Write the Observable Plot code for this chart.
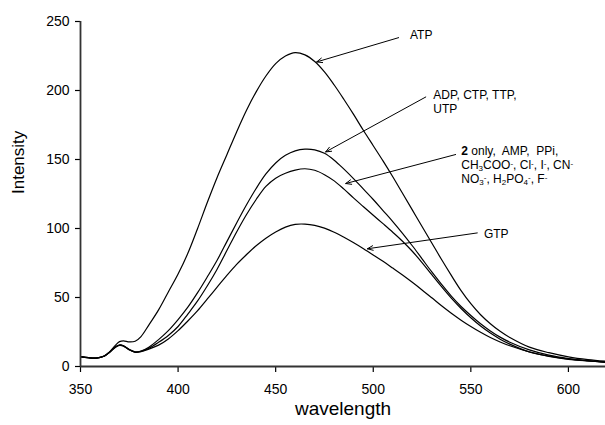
<!DOCTYPE html>
<html>
<head>
<meta charset="utf-8">
<script src="https://cdn.jsdelivr.net/npm/d3@7"></script>
<script src="https://cdn.jsdelivr.net/npm/@observablehq/plot@0.6"></script>
<style>
  body { margin: 0; background: #fff; }
  svg { display: block; }
</style>
</head>
<body>
<div id="chart"></div>
<script>
// ---- data ----
const wavelength = [350,354,358,362,365,368,370,372,375,378,381,385,390,395,400,405,410,415,420,425,430,435,440,445,450,455,460,465,470,475,480,485,490,495,500,505,510,515,520,525,530,535,540,545,550,555,560,565,570,580,590,600,610,619];

const atp = [7.2,6.4,6.1,7.6,10.8,15.5,18,18.6,17.8,18.3,21.7,30,41,54,67,82,100,119,137,153.5,170,185.5,199,210.5,219.5,225,227.5,225.8,221,213.5,204,193.5,182.5,171,160,149,137.5,125.5,113.5,101.5,89.5,77.5,66,55,45.5,37.5,31,25.5,21,14,10,7,5,3.8];

const adp = [7.2,6.4,6.1,7.4,10.5,14.3,15.6,15,12.3,10.6,11.2,14,19.5,26,34,43,53.5,65,77,90.5,104,117,129,139.5,147.5,153,156.3,157.5,157,154.5,149.5,143,136,128.5,121,113,105,96.5,87.5,78,68.5,59.5,51,43.5,37,31,25.8,21.3,17.6,12,8.2,5.8,4.3,3.4];

const only2 = [7.2,6.4,6.1,7.4,10.5,14.3,15.6,15,12.3,10.5,11,13.2,17.5,22.5,29,38,47.5,58.5,70.5,84,97.5,110,121,130.5,136.5,140,142.3,143.3,142.2,139,134.5,128.5,122,115.8,109.6,103.5,97.3,90.8,83.5,75.3,66.5,57.8,49.5,42,35.3,29.3,24.2,19.8,16.2,10.5,7.3,5.2,4,3.2];

const gtp = [7.2,6.4,6.1,7.4,10.3,14,15.3,14.8,12,10.3,10.7,12.6,15.5,20,26,33,40.5,49,57.5,66,74,81,87.5,93,97.5,101,103,103.2,102.3,100.3,97.3,93.6,89.6,85.3,80.8,76.2,71.3,66.3,61,55.5,49.8,44,38.6,33.6,29,24.8,21,17.8,15,10.6,7.5,5.5,4,3];

const seriesNames = ["ATP", "ADP", "2 only", "GTP"];
const seriesValues = [atp, adp, only2, gtp];

const xTicks = [350, 400, 450, 500, 550, 600];
const yTicks = [0, 50, 100, 150, 200, 250];
const xLabel = "wavelength";
const yLabel = "Intensity";

// annotation arrows (data coordinates: wavelength, intensity)
const arrowTailWl = [513.0, 526.9, 542.2, 553.3];
const arrowTailI  = [238.3, 195.3, 153.6, 96.8];
const arrowTipWl  = [471.0, 475.6, 485.9, 497.0];
const arrowTipI   = [220.7, 155.5, 132.6, 85.3];

// annotation text lines
const labelLines = [
  "ATP",
  "ADP, CTP, TTP,",
  "UTP",
  "<b>2</b> only,  AMP,  PPi,",
  "CH<sub>3</sub>COO<sup>-</sup>, Cl<sup>-</sup>, I<sup>-</sup>, CN<sup>-</sup>",
  "NO<sub>3</sub><sup>-</sup>, H<sub>2</sub>PO<sub>4</sub><sup>-</sup>, F<sup>-</sup>",
  "GTP"
];
const labelWl = [518.8, 530.8, 530.8, 545.1, 545.1, 545.1, 556.7];
const labelI  = [240.4, 196.4, 186.7, 156.2, 145.8, 135.4, 96.2];

// ---- build table ----
const rows = [];
seriesNames.forEach((name, s) => {
  wavelength.forEach((w, i) => rows.push({series: name, wl: w, v: seriesValues[s][i]}));
});

const chart = Plot.plot({
  width: 605,
  height: 425,
  marginLeft: 80,
  marginRight: 0,
  marginTop: 21,
  marginBottom: 59,
  style: {
    fontFamily: "'Liberation Sans', Arial, Helvetica, sans-serif",
    fontSize: "14px",
    color: "black",
    background: "white"
  },
  x: { domain: [350, 619] },
  y: { domain: [0, 250] },
  marks: [
    Plot.line(rows, {x: "wl", y: "v", z: "series", stroke: "black", strokeWidth: 1.2, curve: "catmull-rom"}),
    Plot.axisX({ticks: xTicks, tickSize: 6, tickPadding: 12, fontSize: 14, label: null, strokeWidth: 1.2}),
    Plot.axisY({ticks: yTicks, tickSize: 5, tickPadding: 6, fontSize: 14, label: null, strokeWidth: 1.2}),
    Plot.ruleY([0], {stroke: "#333", strokeWidth: 1.8}),
    Plot.ruleX([350], {stroke: "#333", strokeWidth: 1.8}),
    Plot.arrow(seriesNames, {
      x1: arrowTailWl, y1: arrowTailI, x2: arrowTipWl, y2: arrowTipI,
      stroke: "black", strokeWidth: 1, headLength: 9, headAngle: 45
    }),
    Plot.text(labelLines, {
      x: labelWl, y: labelI, text: d => d, textAnchor: "start",
      fontSize: 12, fill: "black"
    }),
    Plot.text([yLabel], {text: d => d, frameAnchor: "left", dx: -62, rotate: -90, fontSize: 17, fill: "black"}),
    Plot.text([xLabel], {text: d => d, frameAnchor: "bottom", dy: 48, fontSize: 19, fill: "black"})
  ]
});

// turn the small markup of the labels into real tspans (bold / sub / sup)
chart.querySelectorAll("text").forEach(t => {
  const s = t.textContent;
  if (!s.includes("<")) return;
  while (t.firstChild) t.removeChild(t.firstChild);
  const re = /<(b|sub|sup)>(.*?)<\/\1>|([^<]+)/g;
  let m, shift = 0;
  while ((m = re.exec(s))) {
    const ts = document.createElementNS("http://www.w3.org/2000/svg", "tspan");
    let target = 0;
    if (m[1] === "sub") { target = 2; ts.setAttribute("font-size", "8"); }
    else if (m[1] === "sup") { target = -3.5; ts.setAttribute("font-size", "8"); }
    else if (m[1] === "b") { ts.setAttribute("font-weight", "bold"); }
    ts.setAttribute("dy", target - shift);
    shift = target;
    ts.textContent = m[1] ? m[2] : m[3];
    t.appendChild(ts);
  }
});

document.getElementById("chart").appendChild(chart);
</script>
</body>
</html>
